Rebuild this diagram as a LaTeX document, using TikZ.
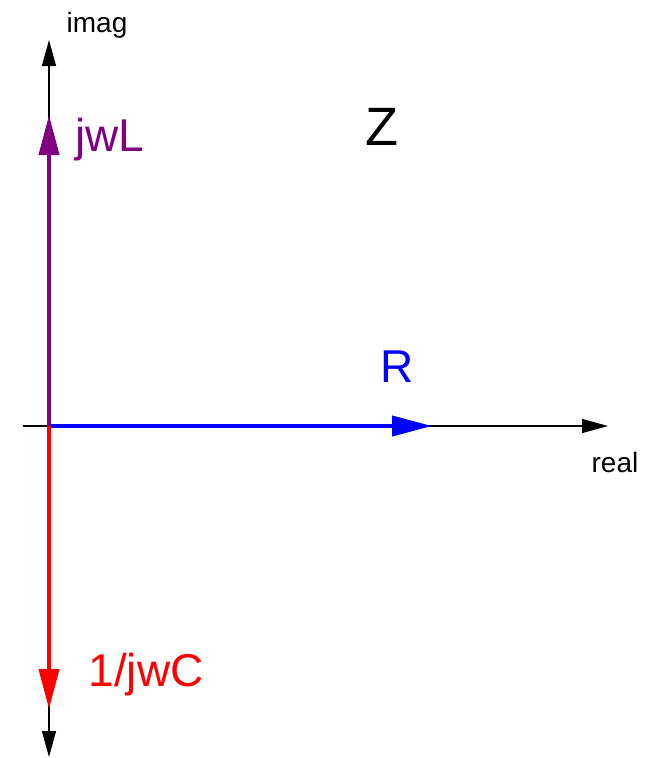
\documentclass[tikz,border=0pt]{standalone}
\usepackage{fontspec}
\setmainfont{Liberation Sans}
\usetikzlibrary{arrows.meta}
\begin{document}
\begin{tikzpicture}[x=1pt,y=-1pt,
  axis/.style={line width=1.3pt,black,-{Triangle[length=26pt,width=14pt]}},
  phasor/.style={line width=4pt,-{Triangle[length=40pt,width=20pt]}},
  lbl/.style={inner sep=0pt,anchor=base},
  small/.style={font=\fontsize{28}{34}\selectfont},
  big/.style={font=\fontsize{46}{54}\selectfont}]
\useasboundingbox (0,0) rectangle (650,758);
\coordinate (O) at (49,426);
\coordinate (xl) at (23,426);
\coordinate (xr) at (608,426);
\coordinate (yt) at (49,40);
\coordinate (yb) at (49,757);
\coordinate (Lt) at (49,115);
\coordinate (Cb) at (49,709);
\coordinate (Rt) at (432,426);
\draw[axis] (xl) -- (xr);
\draw[axis] (O) -- (yt);
\draw[axis] (O) -- (yb);
\draw[phasor,blue] (O) -- (Rt);
\draw[phasor,red] (O) -- (Cb);
\draw[phasor,color={rgb,255:red,128;green,0;blue,128}] (O) -- (Lt);
\node[lbl,small] (imag) at (97,32) {imag};
\node[lbl,small] (real) at (615,472) {real};
\node[lbl,big,color={rgb,255:red,128;green,0;blue,128}] (jwL) at (110,151) {jwL};
\node[lbl,font=\fontsize{54}{62}\selectfont] (Z) at (382,145) {Z};
\node[lbl,big,blue] (R) at (397,382) {R};
\node[lbl,big,red] (jwC) at (146,686) {1/jwC};
\end{tikzpicture}
\end{document}
